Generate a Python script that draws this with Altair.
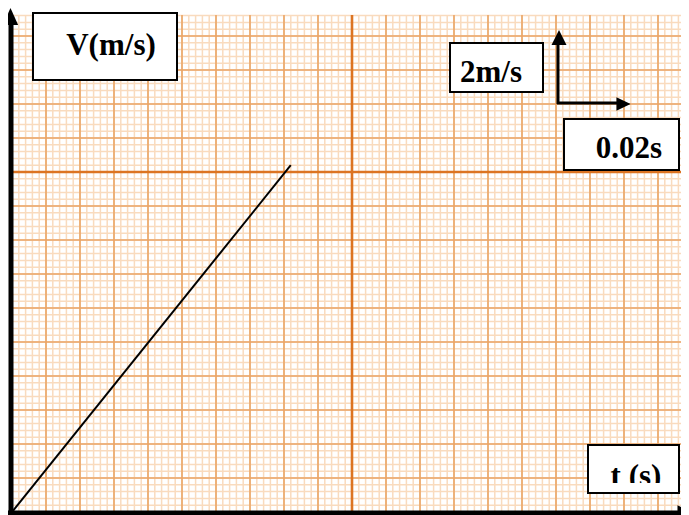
import altair as alt
import numpy as np
import pandas as pd

# ---- data ----
t_vals = [0.0, 0.082]      # time (s)
v_vals = [0.0, 10.2]       # velocity (m/s)

# graph-paper scale: 1 major square (34 px) = 0.01 s horizontally, 1 m/s vertically
PX = 34
W, H = 669, 497
X_MAX = W / PX * 0.01
Y_MAX = H / PX

minor_x = [round(v, 4) for v in np.arange(0, X_MAX, 0.002)]
major_x = [round(v, 4) for v in np.arange(0, X_MAX, 0.01)]
thick_x = [0.1]
minor_y = [round(v, 3) for v in np.arange(0, Y_MAX, 0.2)]
major_y = [round(v, 3) for v in np.arange(0, Y_MAX, 1.0)]
thick_y = [10.0]

xs = alt.Scale(domain=[0, X_MAX], nice=False, zero=False)
ys = alt.Scale(domain=[0, Y_MAX], nice=False, zero=False)

MINOR = "#f9dbbe"
MAJOR = "#eaa566"
THICK = "#dc7422"


def vgrid(vals, color, w):
    return alt.Chart(pd.DataFrame({"x": vals})).mark_rule(color=color, strokeWidth=w).encode(
        x=alt.X("x:Q", scale=xs, axis=None))


def hgrid(vals, color, w):
    return alt.Chart(pd.DataFrame({"y": vals})).mark_rule(color=color, strokeWidth=w).encode(
        y=alt.Y("y:Q", scale=ys, axis=None))


one = alt.Data(values=[{"a": 1}])

layers = [
    vgrid(minor_x, MINOR, 1.5), hgrid(minor_y, MINOR, 1.5),
    vgrid(major_x, MAJOR, 1.6), hgrid(major_y, MAJOR, 1.6),
    vgrid(thick_x, THICK, 2.6), hgrid(thick_y, THICK, 2.6),
]

# data line
line = alt.Chart(pd.DataFrame({"t": t_vals, "v": v_vals})).mark_line(
    color="black", strokeWidth=2, clip=False).encode(
    x=alt.X("t:Q", scale=xs, axis=None),
    y=alt.Y("v:Q", scale=ys, axis=None))
layers.append(line)


def rule(x, y, x2=None, y2=None, w=5):
    enc = dict(x=alt.value(x), y=alt.value(y))
    if x2 is not None:
        enc["x2"] = alt.value(x2)
    if y2 is not None:
        enc["y2"] = alt.value(y2)
    return alt.Chart(one).mark_rule(color="black", strokeWidth=w, clip=False).encode(**enc)


def head(x, y, shape, size):
    return alt.Chart(one).mark_point(shape=shape, size=size, filled=True, color="black",
                                     opacity=1, strokeWidth=0, clip=False).encode(
        x=alt.value(x), y=alt.value(y))


UP = "M0,-1L0.9,1L-0.9,1Z"
RIGHT = "M1,0L-1,-0.9L-1,0.9Z"

# axes
layers += [
    rule(-1, 10, y2=500, w=5),
    head(-1.5, 1.5, UP, 289),
    rule(-4, 498, x2=668, w=5),
    head(674, 498, RIGHT, 289),
]

# scale arrows
layers += [
    rule(546, 89, y2=25, w=3),
    head(547, 22.5, "M0,-1L1,1L-1,1Z", 225),
    rule(545, 88, x2=608, w=3),
    head(611.5, 89, "M1,0L-1,-0.95L-1,0.95Z", 200),
]


def box(x, y, x2, y2):
    return alt.Chart(one).mark_rect(fill="white", stroke="black", strokeWidth=2, clip=False).encode(
        x=alt.value(x), x2=alt.value(x2), y=alt.value(y), y2=alt.value(y2))


def label(txt, x, y):
    return alt.Chart(one).mark_text(text=txt, font="Liberation Serif", fontWeight="bold",
                                    fontSize=31, align="center", baseline="alphabetic",
                                    color="black", clip=False).encode(
        x=alt.value(x), y=alt.value(y))


layers += [
    box(21, -2, 165, 65), label("V(m/s)", 99, 40),
    box(438, 28, 531, 77), label("2m/s", 479, 67),
    box(552, 104, 667, 155), label("0.02s", 617, 143),
    box(576, 430, 667, 478), label("t (s)", 624, 471),
    alt.Chart(one).mark_rect(fill="white", clip=False).encode(
        x=alt.value(578), x2=alt.value(665), y=alt.value(468), y2=alt.value(477)),
]

chart = alt.layer(*layers).properties(
    width=W, height=H,
    autosize=alt.AutoSizeParams(type="none"),
    padding={"left": 4, "top": 7, "right": 0, "bottom": 3},
).configure_view(stroke=None)

chart.save("out.html", embed_options={"renderer": "svg", "actions": False})
